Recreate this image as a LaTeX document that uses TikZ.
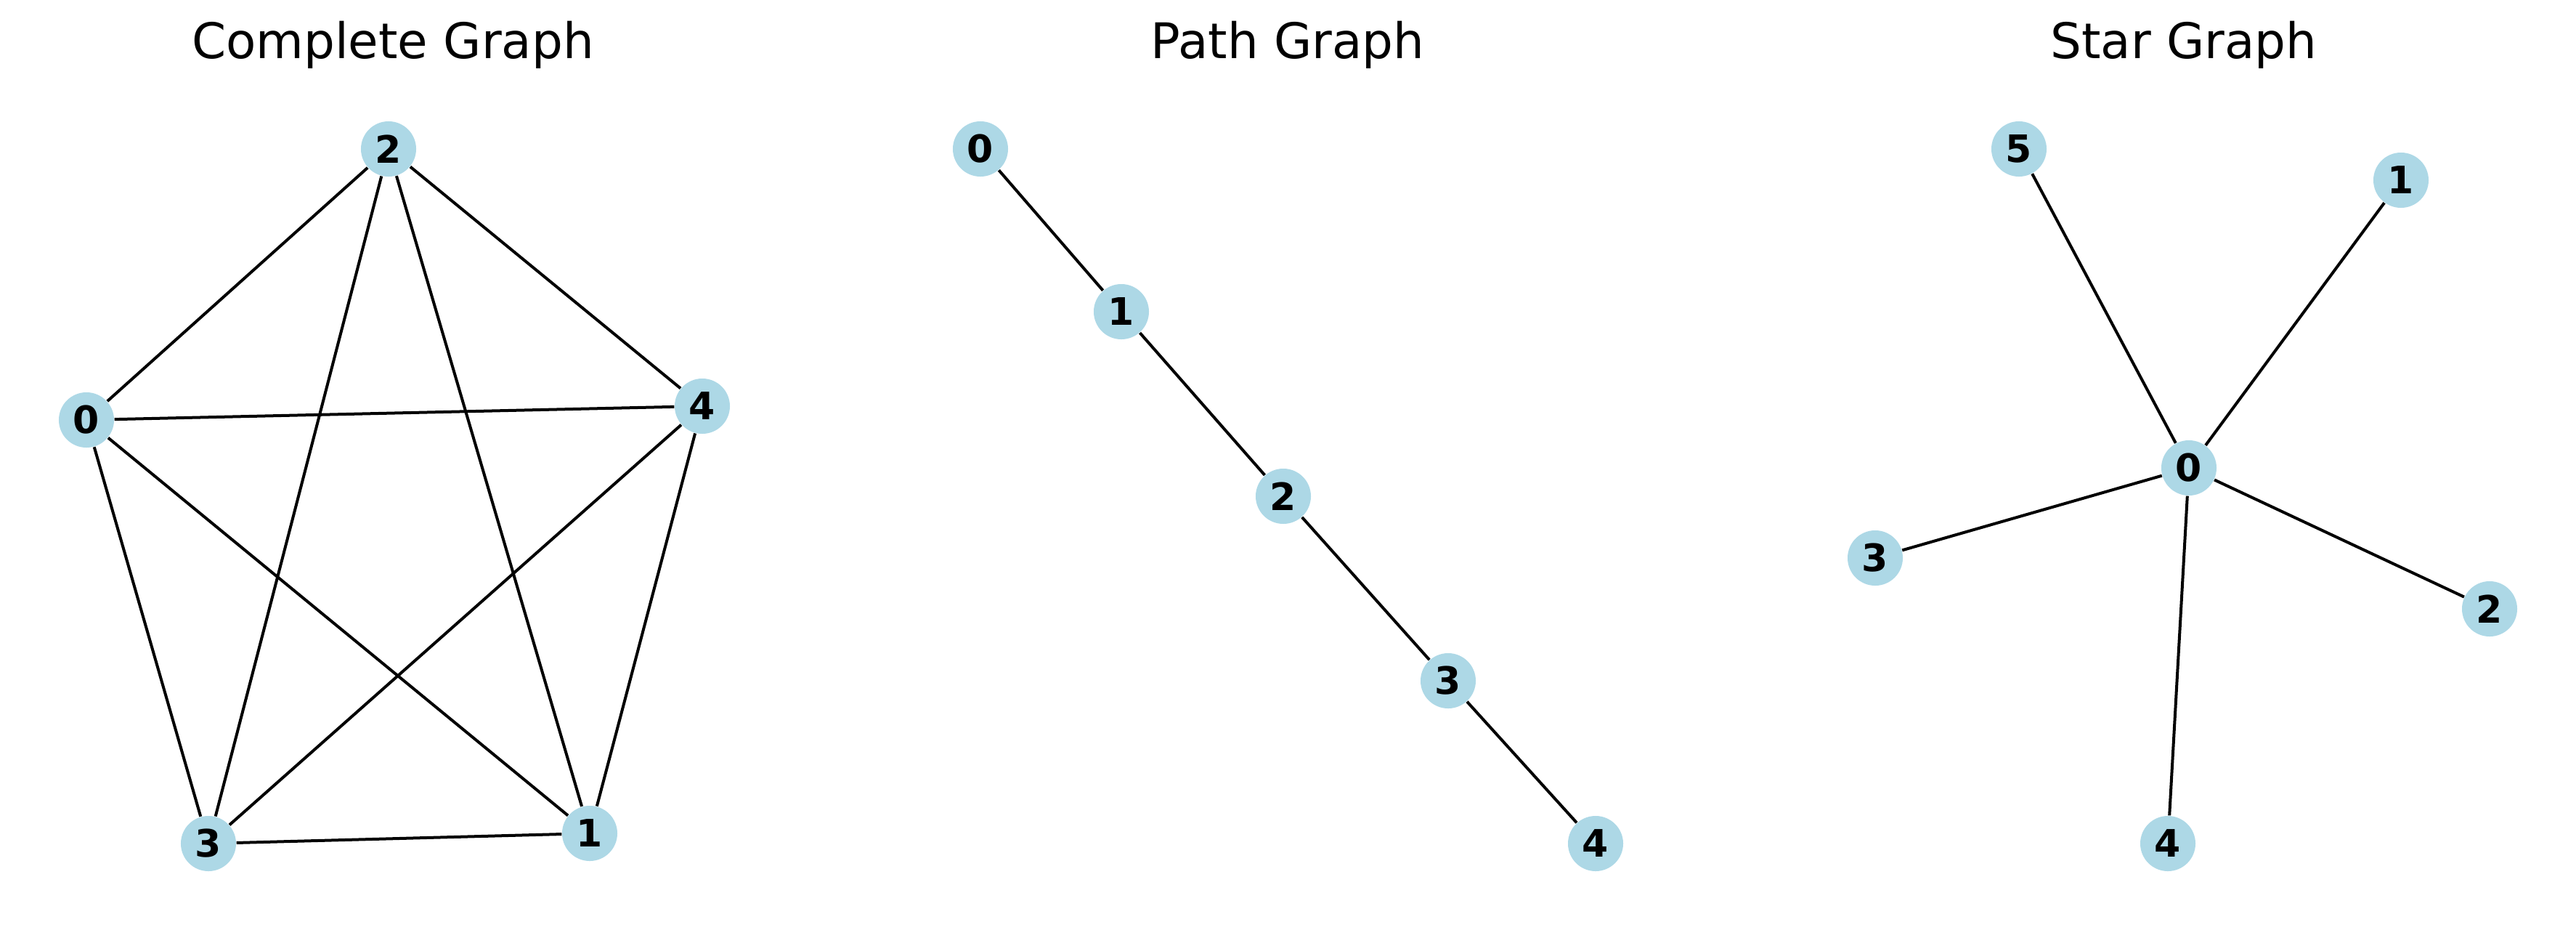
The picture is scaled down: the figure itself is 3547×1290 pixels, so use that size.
\documentclass[tikz,border=0pt]{standalone}
\usepackage{fontspec}
\setmainfont{DejaVu Sans}
\usetikzlibrary{positioning}
\definecolor{nodeblue}{HTML}{ADD8E6}
\tikzstyle{vertex} = [
    circle,
    minimum size=0.76cm,
    inner sep=0pt,
    fill=nodeblue,
    font=\fontsize{14.8}{16}\selectfont\bfseries
]
\tikzstyle{title} = [
    font=\fontsize{19.2}{22}\selectfont,
    anchor=base
]
\tikzstyle{edge} = [line width=0.04cm, black]

\begin{document}
\begin{tikzpicture}[x=0.01cm, y=-0.01cm]
    \useasboundingbox (0,0) rectangle (3547,1290);

    % titles
    \node (tcomplete) [title] at (541,80) {Complete Graph};
    \node (tpath) [title] at (1773,80) {Path Graph};
    \node (tstar) [title] at (3007,80) {Star Graph};

    % complete graph
    \node (c0) [vertex] at (119,578) {0};
    \node (c1) [vertex] at (812,1147) {1};
    \node (c2) [vertex] at (535,205) {2};
    \node (c3) [vertex] at (287,1161) {3};
    \node (c4) [vertex] at (967,559) {4};

    % path graph
    \node (p0) [vertex] at (1350,205) {0};
    \node (p1) [vertex] at (1544,429) {1};
    \node (p2) [vertex] at (1767,683) {2};
    \node (p3) [vertex] at (1994,937) {3};
    \node (p4) [vertex] at (2197,1161) {4};

    % star graph
    \node (s0) [vertex] at (3014,644) {0};
    \node (s1) [vertex] at (3306,248) {1};
    \node (s2) [vertex] at (3428,838) {2};
    \node (s3) [vertex] at (2582,768) {3};
    \node (s4) [vertex] at (2985,1161) {4};
    \node (s5) [vertex] at (2780,205) {5};

    \foreach \a/\b in {0/1,0/2,0/3,0/4,1/2,1/3,1/4,2/3,2/4,3/4}
        \draw [edge] (c\a) -- (c\b);
    \foreach \a/\b in {0/1,1/2,2/3,3/4}
        \draw [edge] (p\a) -- (p\b);
    \foreach \i in {1,...,5}
        \draw [edge] (s0) -- (s\i);
\end{tikzpicture}
\end{document}
